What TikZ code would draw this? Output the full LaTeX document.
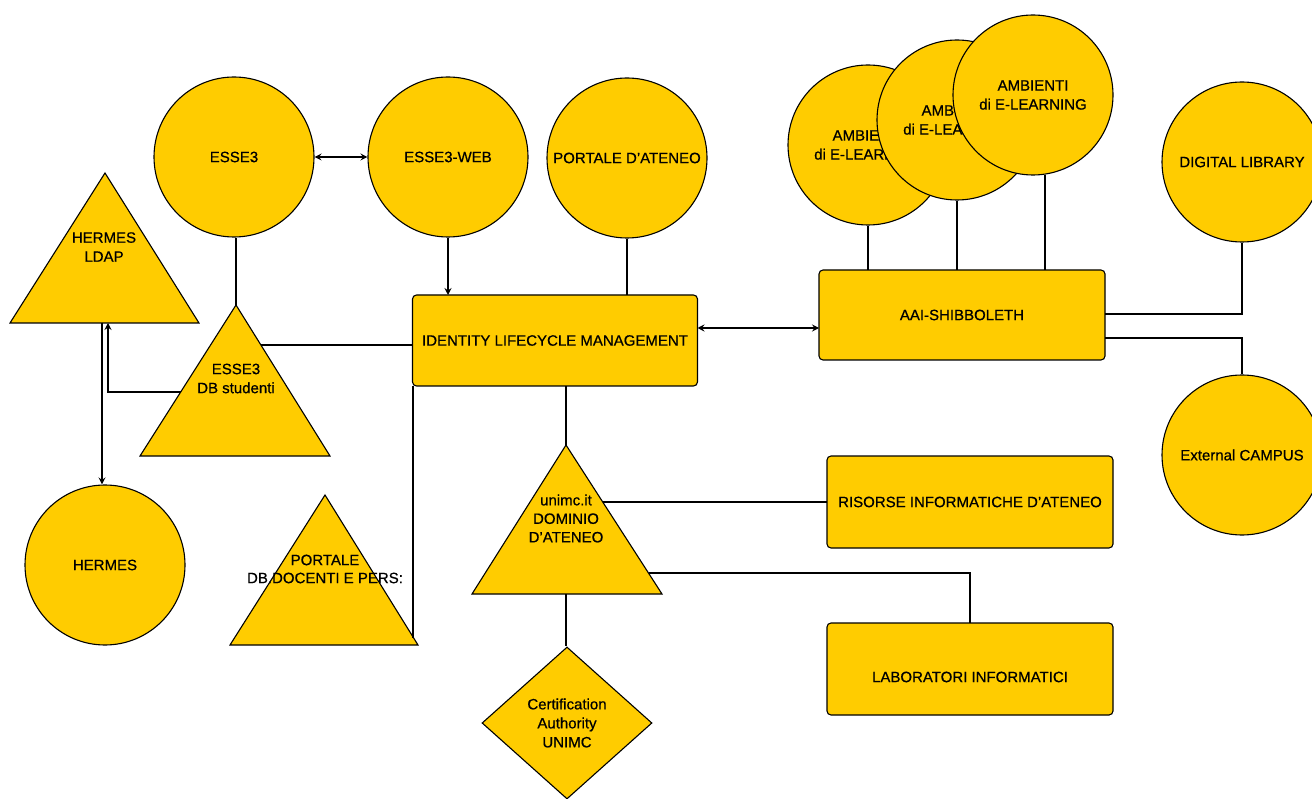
\documentclass[tikz,border=0pt]{standalone}
\usepackage{fontspec}
\setmainfont{Liberation Sans}[FakeBold=0.6]
\usetikzlibrary{shapes.geometric,arrows.meta,calc}
\definecolor{gold}{HTML}{FFCC00}
\begin{document}
\begin{tikzpicture}[x=1pt,y=-1pt,
  every node/.style={font=\fontsize{15}{19}\selectfont, inner sep=0pt},
  circ/.style={circle,draw,fill=gold,line width=1.1pt,minimum size=160pt,align=center},
  boxn/.style={rectangle,rounded corners=4pt,draw,fill=gold,line width=1.1pt,outer sep=0pt},
  tri/.style={draw,fill=gold,line width=1.1pt,line join=miter},
  lbl/.style={align=center},
  conn/.style={line width=1.4pt},
  arr/.style={conn,-{Stealth[length=7pt,width=7pt,inset=2.5pt]}},
  darr/.style={conn,{Stealth[length=7pt,width=7pt,inset=2.5pt]}-{Stealth[length=7pt,width=7pt,inset=2.5pt]}}]
\useasboundingbox (0,0) rectangle (1312,799);

% ---- circles ----
\node[circ] (esse3) at (234,157) {ESSE3};
\node[circ] (web) at (448,157) {ESSE3-WEB};
\node[circ] (portale) at (627,158) {PORTALE D'ATENEO};
\node[circ] (hermes) at (105,565) {HERMES};
\node[circ] (elA) at (868,145) {AMBIENTI\\di E-LEARNING};
\node[circ] (elB) at (957,120) {AMBIENTI\\di E-LEARNING};
\node[circ] (elC) at (1033,95) {AMBIENTI\\di E-LEARNING};
\node[circ] (dl) at (1242,162) {DIGITAL LIBRARY};
\node[circ] (ext) at (1242,455) {External CAMPUS};

% ---- boxes ----
\node[boxn,minimum width=285pt,minimum height=91pt] (idm) at (555,340.5) {IDENTITY LIFECYCLE MANAGEMENT};
\node[boxn,minimum width=286pt,minimum height=90pt] (aai) at (962,315) {AAI-SHIBBOLETH};
\node[boxn,minimum width=286pt,minimum height=92pt] (ris) at (970,502) {RISORSE INFORMATICHE D'ATENEO};
\node[boxn,minimum width=286pt,minimum height=92pt] (lab) at (970,669) {};
\node[lbl] (labt) at (970,677) {LABORATORI INFORMATICI};

% ---- diamond ----
\node[diamond,draw,fill=gold,line width=1.1pt,minimum width=170pt,minimum height=152pt,align=center] (cert) at (567,723) {Certification\\Authority\\UNIMC};

% ---- triangles ----
\coordinate (ldapA) at (105,173); \coordinate (ldapL) at (10,323); \coordinate (ldapR) at (199,323);
\draw[tri] (ldapA) -- (ldapR) -- (ldapL) -- cycle;
\node[lbl] (ldap) at (104,247) {HERMES\\LDAP};

\coordinate (dbA) at (236,305); \coordinate (dbL) at (140,456); \coordinate (dbR) at (330,456);
\draw[tri] (dbA) -- (dbR) -- (dbL) -- cycle;
\node[lbl] (db) at (236,378.5) {ESSE3\\DB studenti};

\coordinate (pdA) at (325,495); \coordinate (pdL) at (230,645); \coordinate (pdR) at (418,645);
\draw[tri] (pdA) -- (pdR) -- (pdL) -- cycle;
\node[lbl,font=\fontsize{15}{18}\selectfont] (pd) at (325,569) {PORTALE\\DB.DOCENTI E PERS:};

\coordinate (unA) at (566,445); \coordinate (unL) at (472,594); \coordinate (unR) at (662,594);
\draw[tri] (unA) -- (unR) -- (unL) -- cycle;
\node[lbl,font=\fontsize{15}{18.5}\selectfont] (un) at (566,518.5) {unimc.it\\DOMINIO\\D'ATENEO};

% ---- connector end points on triangle edges ----
\coordinate (dbE) at (261,345);
\coordinate (dbW) at (180.7,392);
\coordinate (ldapB1) at (108,323);
\coordinate (ldapB2) at (102,323);
\coordinate (pdE) at (413,638);
\coordinate (unB) at (566,594);
\coordinate (unE1) at (603,502);
\coordinate (unE2) at (648.5,573);
\path (elC.center) ++(12,0) coordinate (elCx);

% ---- connectors ----
\draw[darr] (esse3.east) -- (web.west);
\draw[arr] (web.south) -- (web.south |- idm.north);
\draw[conn] (portale.south) -- (portale.south |- idm.north);
\draw[conn] (esse3.south -| dbA) -- (dbA);
\draw[conn] (dbE) -- (dbE -| idm.west);
\draw[arr] (dbW) -| (ldapB1);
\draw[arr] (ldapB2) -- (ldapB2 |- hermes.north);
\draw[conn] (pdE |- idm.south) -- (pdE);
\draw[conn] (unA) -- (unA |- idm.south);
\draw[darr] ([yshift=12.5pt]idm.east) -- ([yshift=12.5pt]idm.east -| aai.west);
\draw[conn] (elA.south) -- (elA.south |- aai.north);
\draw[conn] (elB.south) -- (elB.south |- aai.north);
\draw[conn] (elCx |- elC.-81.4) -- (elCx |- aai.north);
\draw[conn] ([yshift=1pt]aai.east) -| (dl.south);
\draw[conn] ([yshift=-23pt]aai.east) -| (ext.north);
\draw[conn] (unE1) -- (unE1 -| ris.west);
\draw[conn] (unE2) -| (lab.north);
\draw[conn] (unB) -- (unB |- cert.north);
\end{tikzpicture}
\end{document}
